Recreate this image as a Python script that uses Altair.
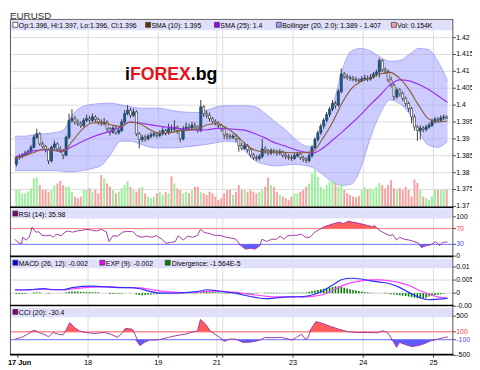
import altair as alt
import pandas as pd

# ---------------- data ----------------
candle_idx = list(range(-1, 147))
first_open = 1.3825
closes = [1.3845,
 1.3848, 1.3852, 1.3858, 1.3862, 1.3875, 1.3905, 1.3915, 1.3885, 1.3878, 1.3868,
 1.3835, 1.3875, 1.3885, 1.3870, 1.3865, 1.3852, 1.3905, 1.3955, 1.3960, 1.3950,
 1.3945, 1.3940, 1.3955, 1.3960, 1.3955, 1.3965, 1.3958, 1.3950, 1.3945, 1.3950,
 1.3930, 1.3920, 1.3932, 1.3918, 1.3925, 1.3950, 1.3975, 1.3985, 1.3970, 1.3980,
 1.3915, 1.3898, 1.3905, 1.3900, 1.3908, 1.3912, 1.3915, 1.3910, 1.3915, 1.3925,
 1.3918, 1.3930, 1.3928, 1.3935, 1.3925, 1.3900, 1.3930, 1.3935, 1.3932, 1.3940,
 1.3935, 1.3925, 1.3995, 1.3975, 1.3970, 1.3960, 1.3952, 1.3948, 1.3940, 1.3930,
 1.3912, 1.3908, 1.3905, 1.3908, 1.3900, 1.3880, 1.3872, 1.3880, 1.3868, 1.3852,
 1.3845, 1.3842, 1.3848, 1.3870, 1.3865, 1.3858, 1.3865, 1.3862, 1.3858, 1.3862,
 1.3852, 1.3848, 1.3845, 1.3842, 1.3850, 1.3855, 1.3845, 1.3840, 1.3836, 1.3850,
 1.3875, 1.3898, 1.3918, 1.3938, 1.3955, 1.3972, 1.3988, 1.4005, 1.4000, 1.4040,
 1.4092, 1.4085, 1.4082, 1.4080, 1.4076, 1.4074, 1.4072, 1.4078, 1.4080, 1.4077,
 1.4083, 1.4092, 1.4098, 1.4132, 1.4105, 1.4100, 1.4075, 1.4060, 1.4025, 1.4045,
 1.4035, 1.4020, 1.4005, 1.3990, 1.3965, 1.3935, 1.3925, 1.3932, 1.3928, 1.3935,
 1.3940, 1.3952, 1.3958, 1.3955, 1.3962, 1.3965, 1.3960]
highs = [1.3850,
 1.3855, 1.3858, 1.3865, 1.3868, 1.3882, 1.3912, 1.3930, 1.3920, 1.3892, 1.3882,
 1.3872, 1.3880, 1.3895, 1.3890, 1.3878, 1.3870, 1.3910, 1.3975, 1.3988, 1.3968,
 1.3958, 1.3952, 1.3962, 1.3972, 1.3968, 1.3975, 1.3970, 1.3962, 1.3958, 1.3962,
 1.3955, 1.3935, 1.3940, 1.3938, 1.3932, 1.3958, 1.3985, 1.4000, 1.3992, 1.3990,
 1.3985, 1.3920, 1.3912, 1.3912, 1.3915, 1.3920, 1.3922, 1.3920, 1.3925, 1.3935,
 1.3930, 1.3945, 1.3942, 1.3955, 1.3940, 1.3930, 1.3938, 1.3948, 1.3945, 1.3950,
 1.3948, 1.3940, 1.4015, 1.4000, 1.3985, 1.3978, 1.3965, 1.3958, 1.3952, 1.3945,
 1.3935, 1.3918, 1.3915, 1.3915, 1.3912, 1.3905, 1.3888, 1.3890, 1.3885, 1.3872,
 1.3858, 1.3852, 1.3855, 1.3900, 1.3878, 1.3870, 1.3872, 1.3870, 1.3868, 1.3870,
 1.3866, 1.3858, 1.3855, 1.3852, 1.3858, 1.3862, 1.3860, 1.3850, 1.3845, 1.3858,
 1.3882, 1.3905, 1.3925, 1.3945, 1.3962, 1.3980, 1.3995, 1.4015, 1.4012, 1.4048,
 1.4108, 1.4098, 1.4092, 1.4088, 1.4086, 1.4084, 1.4080, 1.4086, 1.4090, 1.4088,
 1.4092, 1.4098, 1.4105, 1.4139, 1.4136, 1.4112, 1.4105, 1.4085, 1.4065, 1.4052,
 1.4050, 1.4040, 1.4025, 1.4010, 1.3995, 1.3972, 1.3940, 1.3940, 1.3938, 1.3942,
 1.3948, 1.3960, 1.3965, 1.3965, 1.3970, 1.3972, 1.3970]
lows = [1.3818,
 1.3838, 1.3842, 1.3848, 1.3852, 1.3858, 1.3872, 1.3900, 1.3880, 1.3872, 1.3860,
 1.3825, 1.3830, 1.3868, 1.3862, 1.3858, 1.3840, 1.3848, 1.3900, 1.3948, 1.3942,
 1.3938, 1.3932, 1.3935, 1.3950, 1.3948, 1.3950, 1.3950, 1.3942, 1.3938, 1.3940,
 1.3922, 1.3910, 1.3915, 1.3912, 1.3912, 1.3920, 1.3945, 1.3970, 1.3962, 1.3965,
 1.3908, 1.3872, 1.3890, 1.3892, 1.3895, 1.3902, 1.3905, 1.3902, 1.3905, 1.3910,
 1.3910, 1.3912, 1.3920, 1.3922, 1.3915, 1.3890, 1.3895, 1.3925, 1.3925, 1.3928,
 1.3928, 1.3918, 1.3920, 1.3965, 1.3962, 1.3952, 1.3945, 1.3940, 1.3932, 1.3922,
 1.3900, 1.3898, 1.3898, 1.3900, 1.3892, 1.3862, 1.3865, 1.3868, 1.3860, 1.3845,
 1.3838, 1.3835, 1.3836, 1.3842, 1.3855, 1.3850, 1.3852, 1.3855, 1.3850, 1.3852,
 1.3845, 1.3840, 1.3838, 1.3835, 1.3838, 1.3845, 1.3838, 1.3832, 1.3828, 1.3830,
 1.3845, 1.3870, 1.3892, 1.3912, 1.3930, 1.3950, 1.3965, 1.3982, 1.3990, 1.3995,
 1.4035, 1.4078, 1.4075, 1.4072, 1.4070, 1.4068, 1.4065, 1.4068, 1.4072, 1.4070,
 1.4072, 1.4078, 1.4085, 1.4082, 1.4098, 1.4092, 1.4068, 1.4052, 1.4015, 1.4018,
 1.4025, 1.4012, 1.3995, 1.3980, 1.3946, 1.3925, 1.3894, 1.3898, 1.3920, 1.3922,
 1.3930, 1.3935, 1.3945, 1.3948, 1.3950, 1.3955, 1.3960]
volumes_k = [0.152,
 0.152, 0.121, 0.121, 0.136, 0.167, 0.258, 0.267, 0.197, 0.152, 0.152,
 0.136, 0.152, 0.197, 0.212, 0.236, 0.197, 0.182, 0.182, 0.136, 0.091,
 0.076, 0.091, 0.152, 0.152, 0.167, 0.136, 0.152, 0.121, 0.288, 0.258,
 0.212, 0.182, 0.152, 0.121, 0.136, 0.167, 0.197, 0.236, 0.182, 0.152,
 0.136, 0.167, 0.182, 0.121, 0.091, 0.076, 0.091, 0.121, 0.136, 0.106,
 0.136, 0.121, 0.279, 0.212, 0.167, 0.152, 0.121, 0.136, 0.121, 0.152,
 0.182, 0.182, 0.136, 0.121, 0.106, 0.136, 0.121, 0.091, 0.061, 0.076,
 0.121, 0.152, 0.152, 0.106, 0.136, 0.197, 0.152, 0.152, 0.136, 0.152,
 0.136, 0.121, 0.136, 0.152, 0.182, 0.267, 0.197, 0.182, 0.136, 0.106,
 0.091, 0.076, 0.061, 0.091, 0.121, 0.121, 0.136, 0.152, 0.182, 0.212,
 0.303, 0.339, 0.273, 0.182, 0.158, 0.197, 0.227, 0.242, 0.212, 0.182,
 0.206, 0.152, 0.121, 0.106, 0.091, 0.085, 0.097, 0.152, 0.182, 0.158,
 0.167, 0.158, 0.182, 0.218, 0.197, 0.167, 0.197, 0.242, 0.167, 0.152,
 0.167, 0.152, 0.182, 0.152, 0.091, 0.248, 0.218, 0.152, 0.091, 0.076,
 0.061, 0.091, 0.158, 0.152, 0.152, 0.152, 0.154]

# indicator lines sampled along the time axis (candle-index positions)
grid_idx = [-1.5, 1.8, 5.1, 8.4, 11.6, 14.9, 18.2, 21.5, 24.8, 28.1,
            31.3, 34.6, 37.9, 41.2, 44.5, 47.8, 51.0, 54.3, 57.6, 60.9,
            64.2, 67.5, 70.7, 74.0, 77.3, 80.6, 83.9, 87.2, 90.5, 93.7,
            97.0, 100.3, 103.6, 106.9, 110.2, 113.4, 116.7, 120.0, 123.3, 126.6,
            129.9, 133.2, 136.4, 139.7, 143.0, 146.3]
sma10 = [1.3841, 1.3850, 1.3860, 1.3870, 1.3866, 1.3863, 1.3894, 1.3928, 1.3947, 1.3949,
         1.3942, 1.3937, 1.3950, 1.3945, 1.3928, 1.3917, 1.3918, 1.3923, 1.3926, 1.3929,
         1.3942, 1.3945, 1.3933, 1.3913, 1.3884, 1.3866, 1.3861, 1.3861, 1.3860, 1.3859,
         1.3859, 1.3863, 1.3900, 1.3947, 1.4005, 1.4048, 1.4070, 1.4080, 1.4092, 1.4097,
         1.4080, 1.4045, 1.4000, 1.3960, 1.3950, 1.3953]
sma25 = [1.3845, 1.3855, 1.3865, 1.3867, 1.3867, 1.3865, 1.3878, 1.3892, 1.3905, 1.3915,
         1.3923, 1.3935, 1.3950, 1.3947, 1.3942, 1.3938, 1.3934, 1.3931, 1.3928, 1.3926,
         1.3927, 1.3931, 1.3930, 1.3928, 1.3925, 1.3915, 1.3903, 1.3889, 1.3880, 1.3870,
         1.3862, 1.3858, 1.3872, 1.3895, 1.3920, 1.3945, 1.3972, 1.4002, 1.4030, 1.4060,
         1.4075, 1.4072, 1.4062, 1.4047, 1.4028, 1.4008]
bb_upper = [1.3908, 1.3908, 1.3913, 1.3915, 1.3918, 1.3925, 1.3972, 1.3995, 1.4002, 1.4005,
            1.4006, 1.4001, 1.3996, 1.3991, 1.3991, 1.3991, 1.3986, 1.3981, 1.3979, 1.3978,
            1.3985, 1.3995, 1.3998, 1.3998, 1.3998, 1.3995, 1.3976, 1.3952, 1.3930, 1.3904,
            1.3882, 1.3876, 1.3925, 1.3991, 1.4100, 1.4160, 1.4168, 1.4160, 1.4142, 1.4130,
            1.4132, 1.4150, 1.4168, 1.4165, 1.4130, 1.4072]
bb_lower = [1.3806, 1.3806, 1.3806, 1.3806, 1.3806, 1.3804, 1.3802, 1.3806, 1.3812, 1.3822,
            1.3855, 1.3893, 1.3893, 1.3885, 1.3876, 1.3873, 1.3873, 1.3874, 1.3877, 1.3880,
            1.3884, 1.3889, 1.3893, 1.3890, 1.3862, 1.3835, 1.3825, 1.3820, 1.3822, 1.3825,
            1.3822, 1.3815, 1.3795, 1.3772, 1.3762, 1.3766, 1.3815, 1.3905, 1.3975, 1.4015,
            1.4005, 1.3975, 1.3925, 1.3882, 1.3875, 1.3893]
macd_line = [0.0012, 0.0012, 0.0015, 0.0017, 0.0013, 0.0013, 0.0021, 0.0026, 0.0027, 0.0025,
             0.0023, 0.0021, 0.0021, 0.0017, 0.0007, 0.0001, 0.0000, 0.0000, 0.0003, 0.0006,
             0.0013, 0.0009, 0.0004, 0.0000, -0.0009, -0.0016, -0.0021, -0.0019, -0.0015, -0.0014,
             -0.0013, -0.0006, 0.0008, 0.0030, 0.0052, 0.0057, 0.0054, 0.0047, 0.0042, 0.0036,
             0.0022, 0.0002, -0.0015, -0.0025, -0.0023, -0.0020]
exp_line = [0.0013, 0.0013, 0.0013, 0.0015, 0.0014, 0.0013, 0.0016, 0.0020, 0.0023, 0.0024,
            0.0024, 0.0022, 0.0021, 0.0020, 0.0015, 0.0009, 0.0005, 0.0003, 0.0002, 0.0004,
            0.0007, 0.0008, 0.0006, 0.0003, -0.0002, -0.0007, -0.0011, -0.0014, -0.0014, -0.0014,
            -0.0014, -0.0012, -0.0006, 0.0010, 0.0028, 0.0040, 0.0047, 0.0051, 0.0051, 0.0047,
            0.0040, 0.0029, 0.0012, -0.0003, -0.0014, -0.0019]
divergence = [-0.0003,
    -0.0003, -0.0003, -0.0003, 0, 0, 0.0003, 0.0003, 0.0003, 0, 0,
    -0.0002, 0, 0, 0, 0, 0, 0.0003, 0.0005, 0.0006, 0.0006,
    0.0005, 0.0005, 0.0004, 0.0004, 0.0004, 0.0003, 0.0003, 0.0003, 0, 0,
    0, -0.0003, -0.0003, -0.0002, -0.0002, -0.0002, 0, 0, 0.0001, 0,
    -0.0005, -0.0007, -0.0008, -0.0007, -0.0006, -0.0005, -0.0004, -0.0004, -0.0003, -0.0003,
    -0.0002, -0.0002, 0, 0, -0.0001, 0, 0.0001, 0, 0.0001, 0.0001,
    0.0002, 0.0003, 0.0004, 0.0005, 0.0005, 0.0004, 0.0004, 0.0003, 0.0003, 0.0002,
    0.0002, 0.0001, -0.0002, -0.0003, -0.0004, -0.0005, -0.0005, -0.0004, -0.0004, -0.0003,
    -0.0002, -0.0001, 0, 0, 0.0002, 0.0002, 0.0002, 0.0002, 0.0002, 0.0002,
    0.0001, 0.0001, 0.0001, 0.0002, 0.0002, 0.0002, 0.0002, 0.0002, 0.0003, 0.0005,
    0.0008, 0.0010, 0.0012, 0.0015, 0.0017, 0.0019, 0.0021, 0.0024, 0.0026, 0.0026,
    0.0024, 0.0021, 0.0018, 0.0015, 0.0012, 0.0010, 0.0008, 0.0006, 0.0004, 0.0003,
    0.0002, 0.0001, 0, 0, 0, 0.0002, -0.0002, -0.0004, -0.0005, -0.0007,
    -0.0008, -0.0009, -0.0011, -0.0013, -0.0015, -0.0017, -0.0019, -0.0020, -0.0019, -0.0017,
    -0.0013, -0.0010, -0.0008, -0.0006, -0.0004, -0.0002, 0]
rsi_idx = [-1.5, -0.5, 0.8, 1.1, 2.4, 3.4, 4.4, 5.7, 6.7, 7.7,
           9.0, 10.7, 11.6, 12.6, 14.3, 15.6, 16.6, 18.2, 19.8, 21.5,
           23.1, 24.8, 26.4, 28.1, 29.7, 30.7, 32.0, 33.6, 35.3, 36.9,
           38.9, 40.2, 41.9, 43.5, 45.1, 46.8, 48.7, 50.1, 51.7, 53.3,
           54.3, 56.0, 57.6, 59.3, 60.9, 61.9, 63.2, 64.8, 66.5, 68.5,
           70.7, 73.0, 74.0, 75.7, 77.3, 79.0, 80.6, 82.2, 82.9, 84.5,
           86.2, 87.8, 89.1, 90.5, 91.4, 93.1, 94.7, 96.4, 97.7, 99.3,
           101.0, 102.6, 104.2, 105.9, 107.5, 109.2, 110.8, 112.5, 114.1, 115.7,
           117.4, 119.0, 120.7, 121.3, 122.3, 123.3, 124.9, 126.6, 127.6, 128.9,
           129.9, 131.5, 133.2, 134.8, 136.4, 137.4, 139.1, 140.7, 142.3, 143.6,
           144.6, 146.3]
rsi_val = [43, 35, 31, 48, 41, 48, 73, 61, 62, 53,
           52, 53, 48, 56, 52, 61, 64, 61, 64, 66,
           68, 66, 64, 68, 62, 37, 52, 51, 61, 63,
           62, 52, 48, 51, 48, 52, 43, 33, 35, 37,
           52, 41, 51, 48, 53, 68, 60, 58, 53, 53,
           48, 45, 43, 27, 18, 20, 18, 27, 43, 37,
           43, 43, 51, 43, 51, 53, 53, 56, 48, 48,
           61, 68, 75, 79, 83, 86, 83, 89, 86, 84,
           81, 78, 75, 78, 71, 64, 58, 52, 55, 41,
           48, 43, 41, 37, 33, 22, 27, 29, 37, 27,
           35, 36]
cci_idx = [-1.5, 0.8, 2.8, 5.1, 6.7, 8.4, 10.0, 11.6, 13.3, 14.9,
           15.9, 17.2, 18.9, 20.5, 22.5, 25.8, 29.0, 31.3, 33.6, 35.3,
           36.3, 38.6, 39.5, 41.2, 42.8, 44.5, 46.8, 48.7, 51.0, 53.3,
           56.6, 58.6, 60.9, 61.9, 63.5, 65.2, 66.8, 68.5, 70.1, 71.7,
           74.0, 76.3, 78.3, 80.6, 82.2, 83.9, 86.2, 89.5, 92.1, 93.1,
           94.7, 96.4, 97.7, 98.7, 99.6, 101.3, 102.9, 105.9, 109.2, 112.5,
           115.7, 119.0, 122.3, 124.3, 125.9, 127.6, 128.9, 129.9, 132.2, 134.1,
           136.4, 138.7, 140.7, 143.0, 145.3, 146.4]
cci_val = [-85, -42, 40, 140, 83, 40, -25, 83, 40, 20,
           125, 333, 208, 125, 83, 58, 83, 40, -42, 83,
           190, 165, 40, -250, -167, -110, -110, -85, -42, 0,
           40, 83, 125, 416, 308, 125, 40, -42, -142, -85,
           -85, -167, -167, -142, -110, -42, -50, -42, -85, -110,
           -42, 40, -85, -42, 166, 358, 333, 250, 166, 100,
           83, 83, 75, 125, 75, -125, -292, -167, -233, -275,
           -250, -192, -125, -85, -42, -30]

day_ticks = [-0.5, 23.5, 47.5, 67.5, 69.5, 93.5, 117.5, 141.5]
day_labels = ["17 Jun", "18", "19", "21", "", "23", "24", "25"]
price_ticks = [1.37, 1.375, 1.38, 1.385, 1.39, 1.395, 1.40, 1.405, 1.41, 1.415, 1.42]
price_labels = ["1.37", "1.375", "1.38", "1.385", "1.39", "1.395", "1.4", "1.405", "1.41", "1.415", "1.42"]
rsi_ticks = [0, 30, 70, 100]
rsi_labels = ["0", "30", "70", "100"]
macd_ticks = [-0.005, 0, 0.005, 0.01]
macd_labels = ["-0.005", "0", "0.005", "0.01"]
cci_ticks = [-500, -100, 100, 500]
cci_labels = ["-500", "-100", "100", "500"]

# ---------------- layout / styles ----------------
W, H = 451, 362
FONT = "Liberation Sans, Arial, sans-serif"
HS = 7      # header text size
AS = 7      # axis label size

X = alt.Scale(domain=[-1.5, 146.6], nice=False, zero=False)


def ysc(dom, rng):
    return alt.Scale(domain=dom, range=rng, nice=False, zero=False)


PRICE = ysc([1.37, 1.42], [198.7, 27])
VOL = ysc([0, 1], [198.7, 88.7])
RSI = ysc([0, 100], [249.3, 209.3])
MACD = ysc([-0.005, 0.01], [300.3, 260.3])
CCI = ysc([-500, 500], [350.3, 310.3])

one = pd.DataFrame({"k": [0]})

opens = [first_open] + closes[:-1]
cdf = pd.DataFrame({"i": candle_idx, "o": opens, "h": highs, "l": lows,
                    "c": closes, "v": volumes_k, "d": divergence})
gdf = pd.DataFrame({"i": grid_idx, "s10": sma10, "s25": sma25, "bu": bb_upper,
                    "bl": bb_lower, "m": macd_line, "e": exp_line})
rdf = pd.DataFrame({"i": rsi_idx, "v": rsi_val})
ccdf = pd.DataFrame({"i": cci_idx, "v": cci_val})
xi = alt.X("i:Q", scale=X, axis=None)


def T(text, x, y, size=HS, color="#000000", weight="normal", align="left",
      font=FONT, baseline="alphabetic"):
    return alt.Chart(one).mark_text(text=text, fontSize=size, color=color, fontWeight=weight,
                                    align=align, font=font, baseline=baseline).encode(
        x=alt.value(x), y=alt.value(y))


def SQ(x, y, fill, stroke="#333333"):
    return alt.Chart(one).mark_rect(fill=fill, stroke=stroke, strokeWidth=0.7).encode(
        x=alt.value(x), x2=alt.value(x + 5), y=alt.value(y), y2=alt.value(y + 5))


def HR(y, x1, x2, color, w=1.0):
    return alt.Chart(one).mark_rule(color=color, strokeWidth=w).encode(
        x=alt.value(x1), x2=alt.value(x2), y=alt.value(y))


def VR(x, y1, y2, color, w=1.0):
    return alt.Chart(one).mark_rule(color=color, strokeWidth=w).encode(
        x=alt.value(x), y=alt.value(y1), y2=alt.value(y2))


def level_rule(val, scale, color, w=1.0):
    return alt.Chart(pd.DataFrame({"t": [val]})).mark_rule(color=color, strokeWidth=w).encode(
        y=alt.Y("t:Q", scale=scale, axis=None), x=alt.value(0), x2=alt.value(W))


def band(y1, y2):
    return alt.Chart(one).mark_rect(fill="#e0e0fa").encode(
        x=alt.value(0.5), x2=alt.value(W - 0.5), y=alt.value(y1), y2=alt.value(y2))


layers = []

# gridlines
layers.append(alt.Chart(pd.DataFrame({"t": price_ticks})).mark_rule(color="#dcdcdc").encode(
    y=alt.Y("t:Q", scale=PRICE, axis=None), x=alt.value(0), x2=alt.value(W)))
layers.append(alt.Chart(pd.DataFrame({"b": day_ticks[1:]})).mark_rule(color="#dcdcdc").encode(
    x=alt.X("b:Q", scale=X, axis=None), y=alt.value(8.5), y2=alt.value(349.5)))
layers.append(alt.Chart(pd.DataFrame({"t": [0.005, 0.0]})).mark_rule(color="#d8d8d8").encode(
    y=alt.Y("t:Q", scale=MACD, axis=None), x=alt.value(0), x2=alt.value(W)))

# watermark
layers += [
    T("i", 117, 70, size=18, weight="bold"),
    T("FOREX", 122, 70, size=18, weight="bold", color="#e3141b"),
    T(".bg", 184, 70, size=18, weight="bold"),
]

# Bollinger band
layers.append(alt.Chart(gdf).mark_area(color="#9999ff", opacity=0.5, interpolate="monotone").encode(
    x=xi, y=alt.Y("bu:Q", scale=PRICE, axis=None), y2="bl:Q"))
for f in ["bu", "bl"]:
    layers.append(alt.Chart(gdf).mark_line(color="#9c9cf4", strokeWidth=0.8, interpolate="monotone").encode(
        x=xi, y=alt.Y(f + ":Q", scale=PRICE, axis=None)))

# volume
layers.append(alt.Chart(cdf).transform_calculate(
    col="datum.c > datum.o ? '#9cf09c' : (datum.c < datum.o ? '#f6a0a0' : '#c8c8c8')"
).mark_bar(size=2).encode(x=xi, y=alt.Y("v:Q", scale=VOL, axis=None),
                          color=alt.Color("col:N", scale=None)))

# candles
layers.append(alt.Chart(cdf).mark_rule(color="#2a2a2a", strokeWidth=0.9).encode(
    x=xi, y=alt.Y("l:Q", scale=PRICE, axis=None), y2="h:Q"))
layers.append(alt.Chart(cdf).transform_calculate(
    fc="datum.c >= datum.o ? '#1e5b8a' : '#ffffff'",
    sc="datum.c >= datum.o ? '#123a5a' : '#3a3a3a'"
).mark_bar(size=2.1, strokeWidth=0.7).encode(
    x=xi, y=alt.Y("o:Q", scale=PRICE, axis=None), y2="c:Q",
    fill=alt.Fill("fc:N", scale=None), stroke=alt.Stroke("sc:N", scale=None)))

# moving averages
layers.append(alt.Chart(gdf).mark_line(color="#a030f0", strokeWidth=1.2, interpolate="monotone").encode(
    x=xi, y=alt.Y("s25:Q", scale=PRICE, axis=None)))
layers.append(alt.Chart(gdf).mark_line(color="#8c5a32", strokeWidth=1.1, interpolate="monotone").encode(
    x=xi, y=alt.Y("s10:Q", scale=PRICE, axis=None)))

# RSI
layers.append(level_rule(70, RSI, "#ff7a7a"))
layers.append(level_rule(30, RSI, "#6a6aff"))
layers.append(alt.Chart(rdf).transform_calculate(hi="max(datum.v, 70)", b="70").mark_area(
    color="#ff5c5c").encode(x=xi, y=alt.Y("hi:Q", scale=RSI, axis=None), y2="b:Q"))
layers.append(alt.Chart(rdf).transform_calculate(lo="min(datum.v, 30)", b="30").mark_area(
    color="#5c5cff").encode(x=xi, y=alt.Y("lo:Q", scale=RSI, axis=None), y2="b:Q"))
layers.append(alt.Chart(rdf).mark_line(color="#a23ca2", strokeWidth=1).encode(
    x=xi, y=alt.Y("v:Q", scale=RSI, axis=None)))

# MACD
layers.append(alt.Chart(cdf).transform_calculate(z="0").mark_bar(size=1.6, color="#008000").encode(
    x=xi, y=alt.Y("d:Q", scale=MACD, axis=None), y2="z:Q"))
layers.append(alt.Chart(gdf).mark_line(color="#ff40ff", strokeWidth=1.2, interpolate="monotone").encode(
    x=xi, y=alt.Y("e:Q", scale=MACD, axis=None)))
layers.append(alt.Chart(gdf).mark_line(color="#3030ff", strokeWidth=1.2, interpolate="monotone").encode(
    x=xi, y=alt.Y("m:Q", scale=MACD, axis=None)))

# CCI
layers.append(level_rule(100, CCI, "#ff9090", 1.5))
layers.append(level_rule(-100, CCI, "#6a6aff"))
layers.append(alt.Chart(ccdf).transform_calculate(hi="max(datum.v, 100)", b="100").mark_area(
    color="#ff5c5c").encode(x=xi, y=alt.Y("hi:Q", scale=CCI, axis=None), y2="b:Q"))
layers.append(alt.Chart(ccdf).transform_calculate(lo="min(datum.v, -100)", b="-100").mark_area(
    color="#5c5cff").encode(x=xi, y=alt.Y("lo:Q", scale=CCI, axis=None), y2="b:Q"))
layers.append(alt.Chart(ccdf).mark_line(color="#a23ca2", strokeWidth=1).encode(
    x=xi, y=alt.Y("v:Q", scale=CCI, axis=None)))

# header bands
layers += [band(9, 19.5), band(200.5, 211), band(252, 261.5), band(302, 311.5)]

# header legends
layers += [
    SQ(3, 11.5, "#ffffff"), T("Op:1.396, Hi:1.397, Lo:1.396, Cl:1.396", 9, 16.8),
    SQ(138, 11.5, "#663300"), T("SMA (10): 1.395", 144, 16.8),
    SQ(208, 11.5, "#9900ff"), T("SMA (25): 1.4", 214, 16.8),
    SQ(271, 11.5, "#9999ff"), T("Bollinger (20, 2.0): 1.389 - 1.407", 277, 16.8),
    SQ(388, 11.5, "#f4a0a0"), T("Vol: 0.154K", 394, 16.8),
    SQ(3, 203.5, "#800080"), T("RSI (14): 35.98", 9, 209),
    SQ(3, 253.5, "#0000ff"), T("MACD (26, 12): -0.002", 9, 259),
    SQ(91.5, 253.5, "#ff00ff"), T("EXP (9): -0.002", 97.5, 259),
    SQ(158, 253.5, "#008000"), T("Divergence: -1.564E-5", 164.5, 259),
    SQ(3, 303.5, "#800080"), T("CCI (20): -30.4", 9, 309),
]

# borders
layers += [
    HR(8.5, 0, W, "#666666"),
    VR(0.5, 8.5, 349.5, "#555555"),
    VR(W - 0.5, 8.5, 349.5, "#555555"),
    HR(199.5, 0, W, "#000000", 1.6),
    HR(249.5, 0, W, "#000000", 1.6),
    HR(299.5, 0, W, "#000000", 1.6),
    HR(349.5, 0, W, "#000000", 1.6),
]


# right axes labels & ticks
def axis_layers(ticks, labels, scale, colexpr="'#000000'"):
    df = pd.DataFrame({"t": ticks, "lab": labels})
    tick = alt.Chart(df).mark_rule(color="#333333").encode(
        y=alt.Y("t:Q", scale=scale, axis=None), x=alt.value(W), x2=alt.value(W + 2.5))
    txt = alt.Chart(df).transform_calculate(col=colexpr).mark_text(
        align="left", baseline="middle", fontSize=AS, font=FONT).encode(
        y=alt.Y("t:Q", scale=scale, axis=None), x=alt.value(W + 3), text="lab:N",
        color=alt.Color("col:N", scale=None))
    return [tick, txt]


layers += axis_layers(price_ticks, price_labels, PRICE)
layers += axis_layers(rsi_ticks, rsi_labels, RSI,
                      "datum.t == 70 ? '#ff4040' : (datum.t == 30 ? '#4a4aff' : '#000000')")
layers += axis_layers(macd_ticks, macd_labels, MACD)
layers += axis_layers(cci_ticks, cci_labels, CCI,
                      "datum.t == 100 ? '#ff4040' : (datum.t == -100 ? '#4a4aff' : '#000000')")

# bottom time axis
xdf = pd.DataFrame({"b": day_ticks, "lab": day_labels})
layers.append(alt.Chart(xdf).mark_rule(color="#333333").encode(
    x=alt.X("b:Q", scale=X, axis=None), y=alt.value(349.5), y2=alt.value(352.5)))
layers.append(alt.Chart(xdf).transform_filter("datum.b > 0").mark_text(
    align="center", baseline="alphabetic", fontSize=7.5, font=FONT).encode(
    x=alt.X("b:Q", scale=X, axis=None), y=alt.value(360), text="lab:N"))
layers.append(alt.Chart(xdf).transform_filter("datum.b < 0").mark_text(
    align="left", baseline="alphabetic", fontSize=7.5, font=FONT, fontWeight="bold").encode(
    x=alt.value(-2), y=alt.value(360), text="lab:N"))

# title
layers.append(T("EURUSD", 0, 7.6, size=10, color="#333333"))

chart = alt.layer(*layers).resolve_scale(y="independent").properties(
    width=W, height=H, autosize="none",
    padding={"left": 2, "top": 0, "right": 19, "bottom": 0},
).configure_view(stroke=None)

chart.save("out.html", embed_options={"renderer": "svg", "actions": False})
